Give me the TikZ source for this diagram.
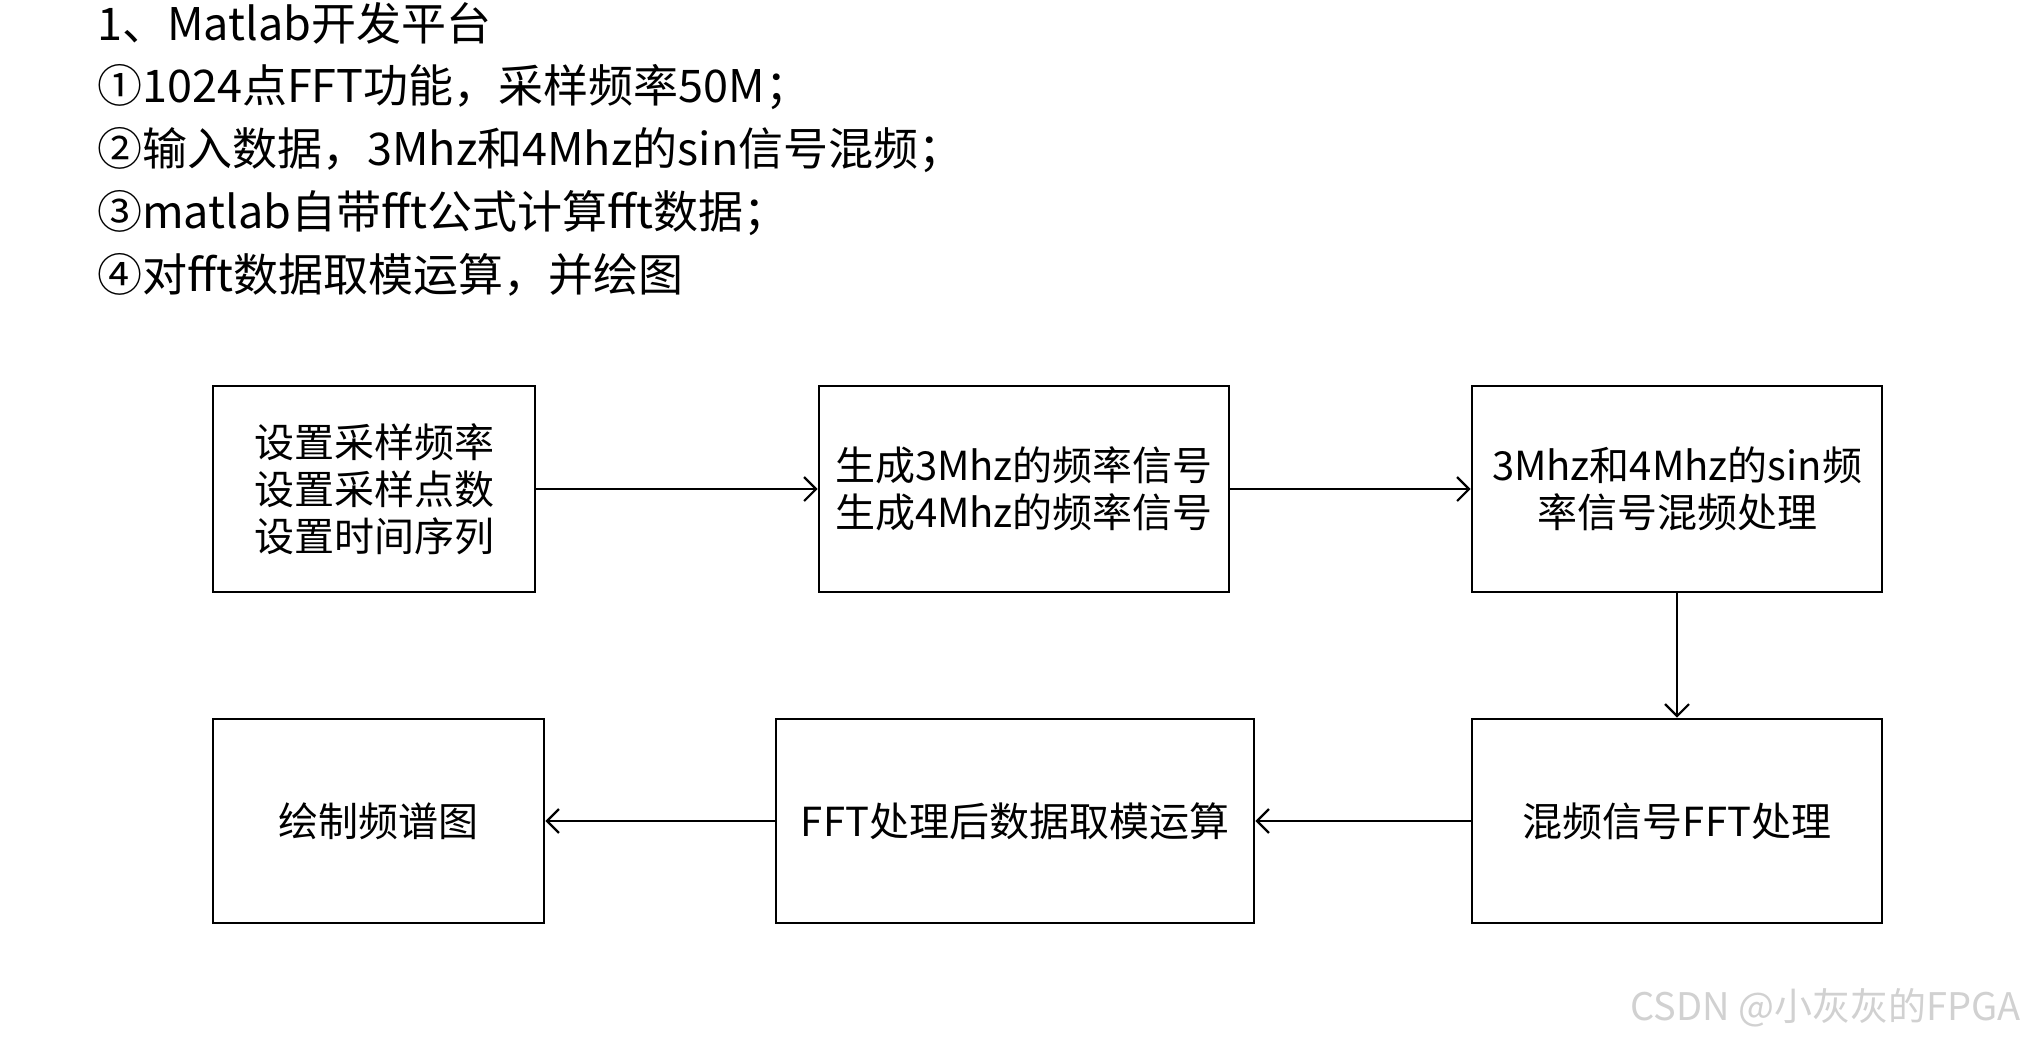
\documentclass[tikz,border=0pt]{standalone}
\usepackage{fontspec}
\setmainfont{Noto Sans CJK SC}
\usetikzlibrary{arrows.meta}
\tikzset{
  box/.style={draw=black, line width=2.8pt, minimum height=206pt, align=center, inner sep=0pt, font=\fontsize{40}{47}\selectfont},
  title/.style={anchor=west, inner sep=0pt, font=\fontsize{45}{50}\selectfont},
  conn/.style={line width=2.2pt, -{Straight Barb[length=12pt,width=24pt,line width=2.2pt]}},
}
\begin{document}
\begin{tikzpicture}[x=1pt,y=-1pt]
\useasboundingbox[fill=white] (0,0) rectangle (2025,1045);
\node[title] (t1) at (97,23) {1、Matlab开发平台};
\node[title] (t2) at (97,87) {①1024点FFT功能，采样频率50M；};
\node[title] (t3) at (97,150) {②输入数据，3Mhz和4Mhz的sin信号混频；};
\node[title] (t4) at (97,213) {③matlab自带fft公式计算fft数据；};
\node[title] (t5) at (97,275) {④对fft数据取模运算，并绘图};

\node[box, minimum width=322pt] (b1) at (374,489) {设置采样频率\\设置采样点数\\设置时间序列};
\node[box, minimum width=410pt] (b2) at (1024,489) {生成3Mhz的频率信号\\生成4Mhz的频率信号};
\node[box, minimum width=410pt] (b3) at (1677,489) {3Mhz和4Mhz的sin频\\率信号混频处理};
\node[box, minimum width=331pt, minimum height=204pt] (b4) at (378.5,821) {绘制频谱图};
\node[box, minimum width=478pt, minimum height=204pt] (b5) at (1015,821) {FFT处理后数据取模运算};
\node[box, minimum width=410pt, minimum height=204pt] (b6) at (1677,821) {混频信号FFT处理};

\draw[conn] (b1) -- (b2);
\draw[conn] (b2) -- (b3);
\draw[conn] (b3) -- (b6);
\draw[conn] (b6) -- (b5);
\draw[conn] (b5) -- (b4);

\node[anchor=east, inner sep=0pt, text=black!18, font=\fontsize{38}{44}\selectfont] (wm) at (2021,1008) {CSDN @小灰灰的FPGA};
\end{tikzpicture}
\end{document}
